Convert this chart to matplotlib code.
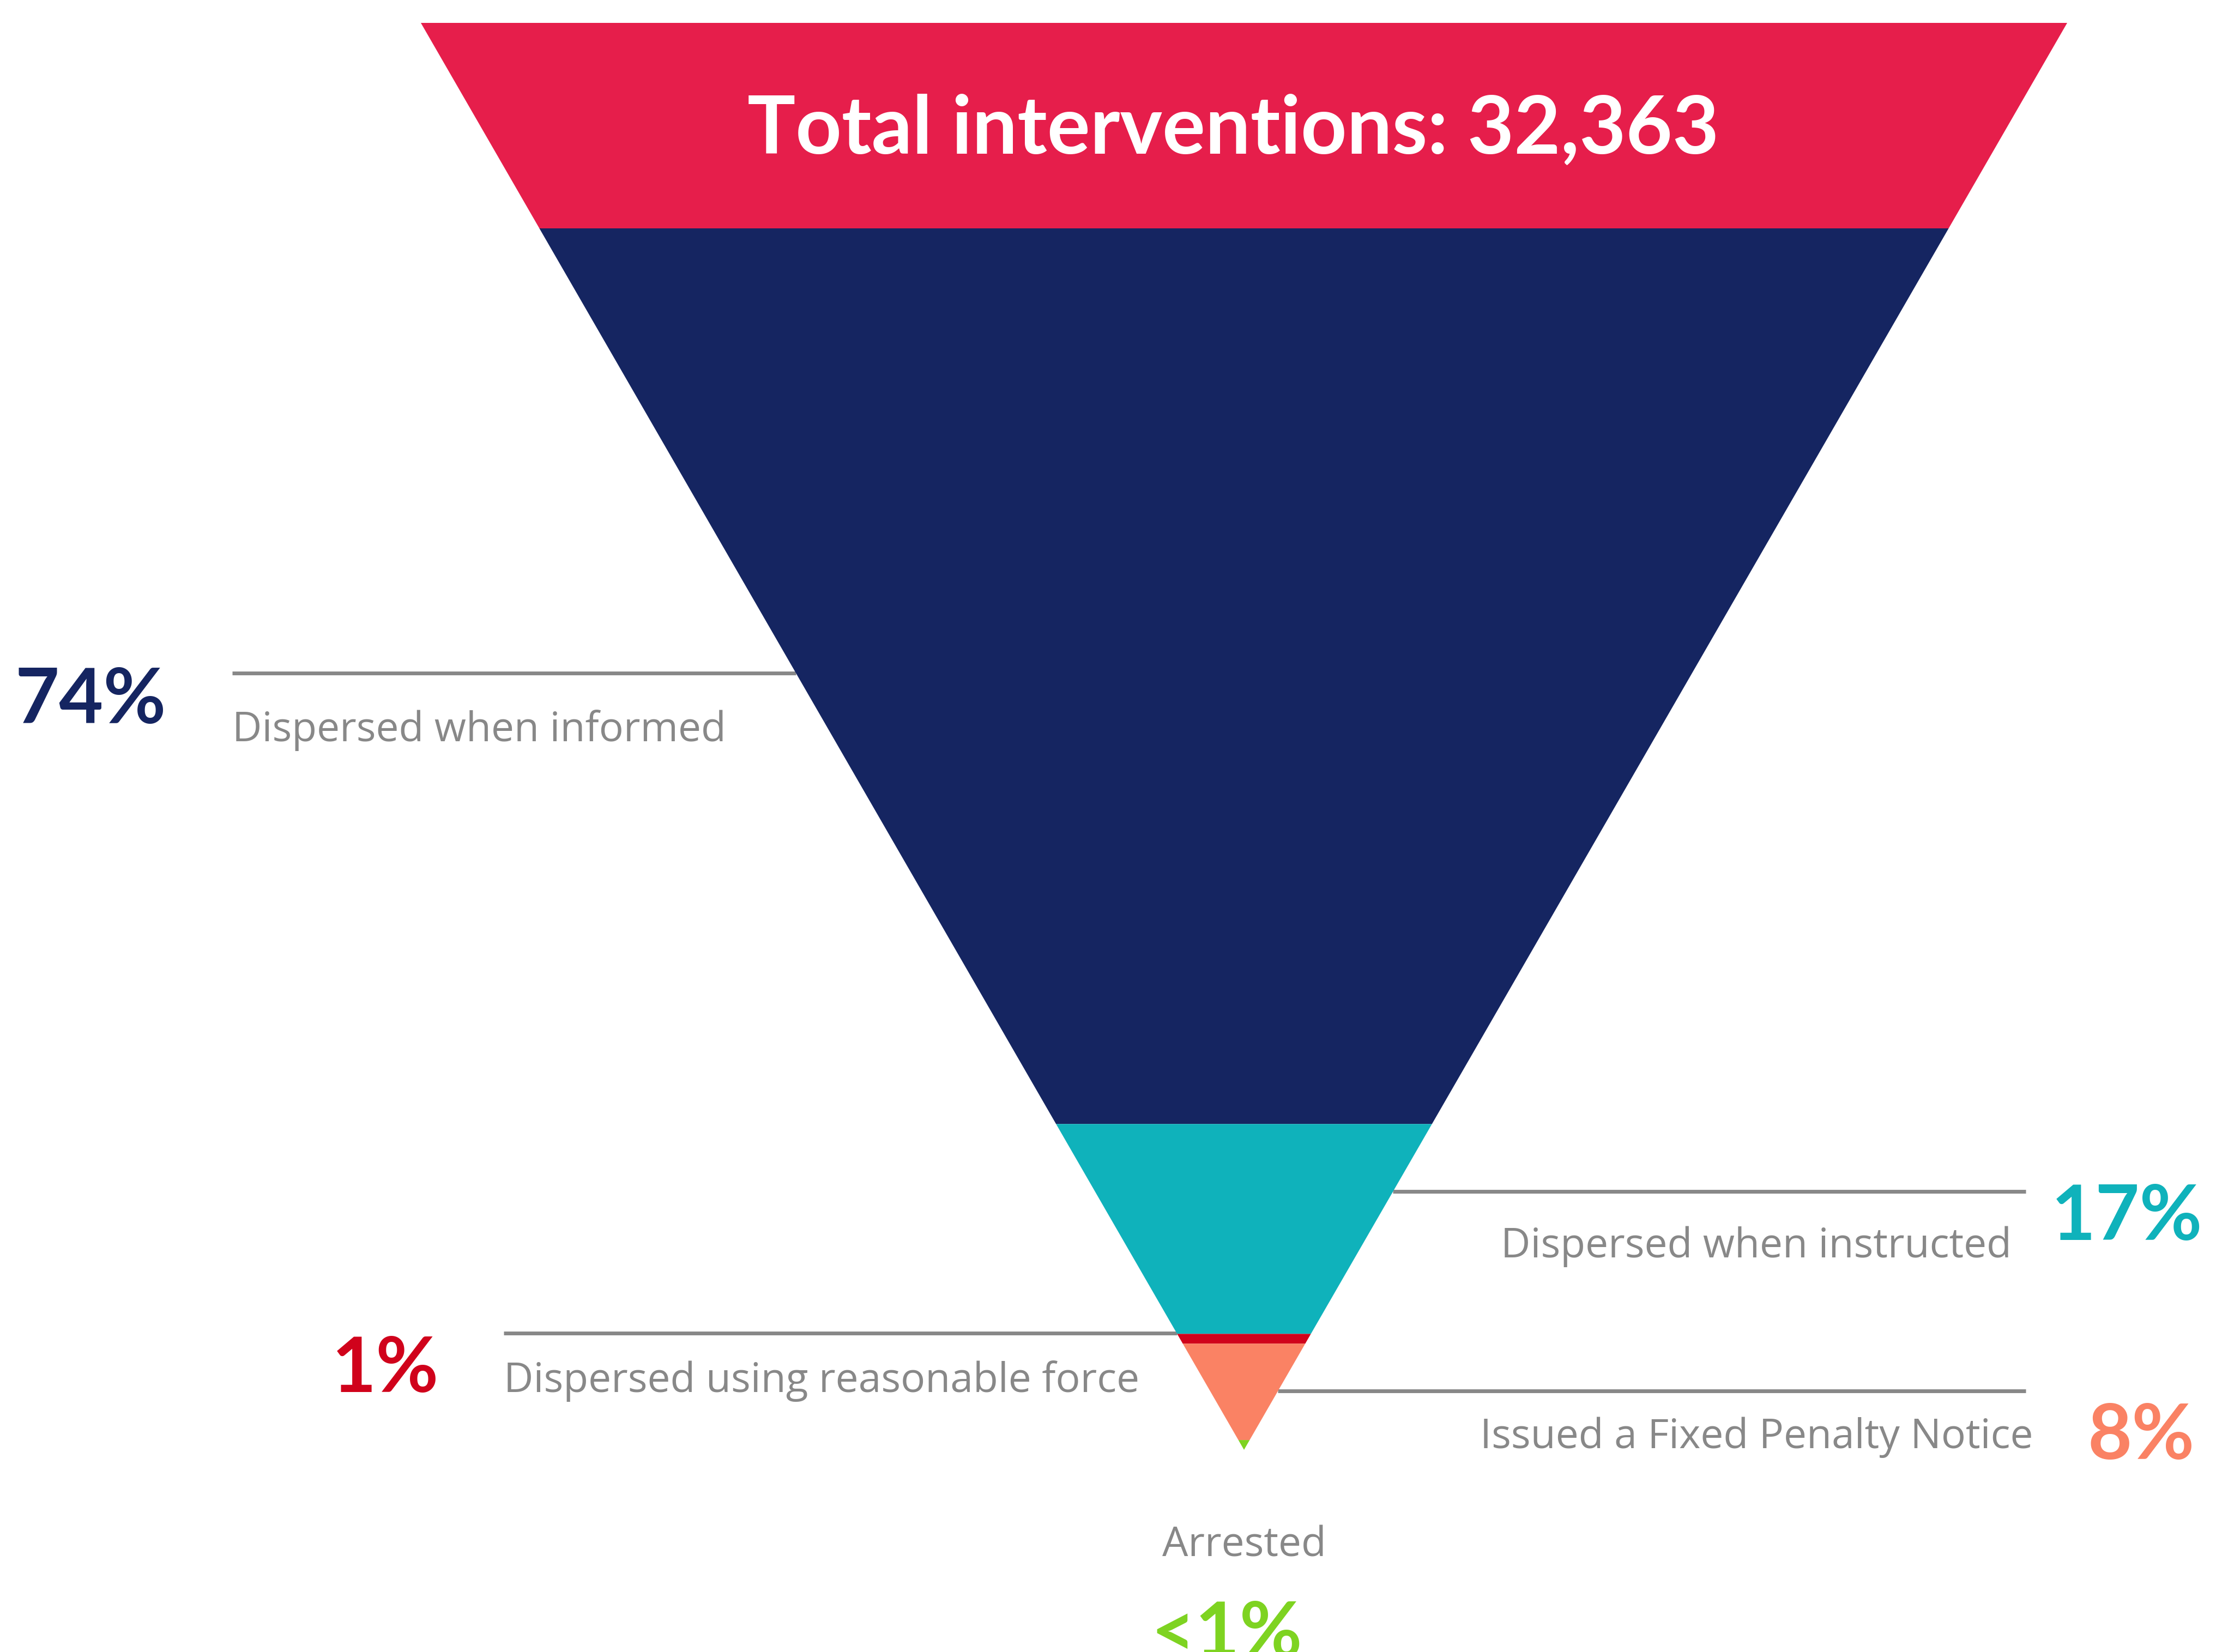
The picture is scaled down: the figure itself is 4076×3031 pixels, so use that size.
import matplotlib
matplotlib.use("Agg")
import matplotlib.pyplot as plt
from matplotlib.patches import Polygon

# ---------------- data ----------------
stages = ["Dispersed when informed", "Dispersed when instructed",
          "Dispersed using reasonable force", "Issued a Fixed Penalty Notice",
          "Arrested"]
shares = [73.4, 17.2, 0.8, 7.9, 0.8]          # share of interventions (%)
pct_labels = ["74%", "17%", "1%", "8%", "<1%"]
colors = ["#152561", "#0FB2BB", "#D0021B", "#FA8264", "#7ED321"]
total_interventions = 32363
header_color = "#E61E4B"
title = f"Total interventions: {total_interventions:,}"

# ---------------- layout (pixels of the 4076x3031 canvas) ----------------
W, H = 4076, 3031
CX = 2282            # funnel centre x
Y_STAGE_TOP = 419    # top of first stage
Y_TIP = 2660         # funnel tip
Y_TOP = 42           # top of header band
HALF_TOP = 1510      # half width at top of header

T = sum(shares)
PX = (Y_TIP - Y_STAGE_TOP) / T
HEADER = (Y_STAGE_TOP - Y_TOP) / PX
SLOPE = (HALF_TOP / PX) / (T + HEADER)


def P(xp, yp):
    return (xp - CX) / PX, (yp - Y_STAGE_TOP) / PX


def hw(c):
    return (T - c) * SLOPE


fig = plt.figure(figsize=(W / 100, H / 100), dpi=100)
ax = fig.add_axes([0, 0, 1, 1])
ax.set_xlim(-CX / PX, (W - CX) / PX)
ax.set_ylim((H - Y_STAGE_TOP) / PX, -Y_STAGE_TOP / PX)
ax.axis("off")

# header band
a, b = -HEADER, 0
ax.add_patch(Polygon([(-hw(a), a), (hw(a), a), (hw(b), b), (-hw(b), b)],
                     closed=True, facecolor=header_color, edgecolor="none", zorder=3))
tx, ty = P(2262, 282)
ax.text(tx, ty, title, color="white", fontsize=106, fontweight="bold",
        family=["Lato", "DejaVu Sans"], ha="center", va="baseline", zorder=5)

# stages
cum = 0.0
for s, c in zip(shares, colors):
    a, b = cum, cum + s
    ax.add_patch(Polygon([(-hw(a), a), (hw(a), a), (hw(b), b), (-hw(b), b)],
                         closed=True, facecolor=c, edgecolor="none", zorder=3))
    cum = b

GRAY = "#888888"
LBL_FONT = ["Open Sans", "DejaVu Sans"]
PCT_FONT = ["Lato", "DejaVu Sans"]
LBL_SIZE = 54
PCT_SIZE = 101

# leader lines: (stage index, side, line y px, outer x px)
leaders = [(0, -1, 1235, 426), (1, 1, 2186, 3716), (2, -1, 2446, 924), (3, 1, 2552, 3716)]
for i, side, yp, xo in leaders:
    _, yd = P(0, yp)
    xo_d, _ = P(xo, 0)
    ax.plot([xo_d, side * hw(yd)], [yd, yd], color=GRAY, lw=5, zorder=2,
            solid_capstyle="butt")

# labels: (stage index, label x px, label baseline px, ha, pct x px, pct baseline px, pct ha)
label_pos = [
    (0, 426, 1360, "left", 28, 1327, "left"),
    (1, 3690, 2307, "right", 4040, 2275, "right"),
    (2, 924, 2554, "left", 805, 2554, "right"),
    (3, 3730, 2657, "right", 4026, 2677, "right"),
]
for i, lx, ly, lha, px_, py_, pha in label_pos:
    x, y = P(lx, ly)
    ax.text(x, y, stages[i], color=GRAY, fontsize=LBL_SIZE, family=LBL_FONT,
            ha=lha, va="baseline")
    x, y = P(px_, py_)
    ax.text(x, y, pct_labels[i], color=colors[i], fontsize=PCT_SIZE,
            fontweight="bold", family=PCT_FONT, ha=pha, va="baseline")

# arrested (bottom)
x, y = P(2282, 2855)
ax.text(x, y, stages[4], color=GRAY, fontsize=LBL_SIZE, family=LBL_FONT,
        ha="center", va="baseline")
x, y = P(2250, 3040)
ax.text(x, y, pct_labels[4], color=colors[4], fontsize=PCT_SIZE,
        fontweight="bold", family=PCT_FONT, ha="center", va="baseline")

fig.savefig("out.png", dpi=100, facecolor="white")
